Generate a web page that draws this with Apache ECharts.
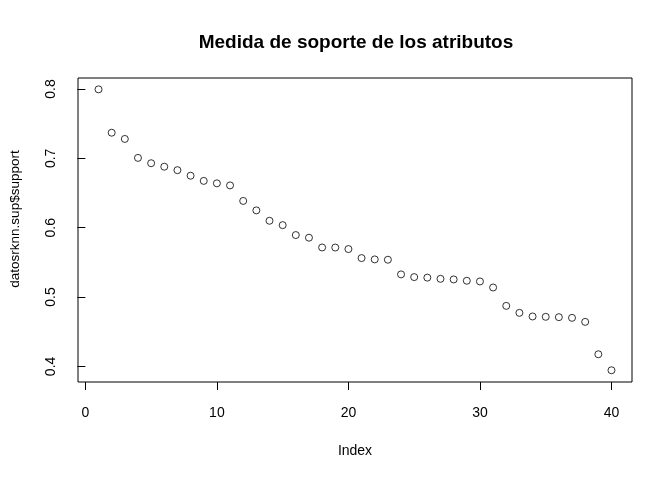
<!DOCTYPE html>
<html>
<head>
<meta charset="utf-8">
<script src="https://cdn.jsdelivr.net/npm/echarts@6/dist/echarts.min.js"></script>
<style>
  html, body { margin: 0; padding: 0; background: #fff; }
  #chart { width: 672px; height: 480px; }
</style>
</head>
<body>
<div id="chart"></div>
<script>
// índice de cada atributo (1..40)
const indices = [
  1, 2, 3, 4, 5, 6, 7, 8, 9, 10,
  11, 12, 13, 14, 15, 16, 17, 18, 19, 20,
  21, 22, 23, 24, 25, 26, 27, 28, 29, 30,
  31, 32, 33, 34, 35, 36, 37, 38, 39, 40
];
// soporte
const support = [
  0.7995, 0.737, 0.728, 0.7007, 0.693, 0.688, 0.683, 0.675, 0.6675, 0.664,
  0.661, 0.6386, 0.625, 0.610, 0.6037, 0.5894, 0.5856, 0.5715, 0.5714, 0.5692,
  0.5562, 0.5543, 0.5538, 0.5327, 0.5288, 0.528, 0.5263, 0.5254, 0.5235, 0.5225,
  0.5138, 0.4873, 0.4772, 0.472, 0.4715, 0.471, 0.470, 0.4642, 0.4175, 0.3944
];
const xTicks = [0, 10, 20, 30, 40];
const yTicks = [0.4, 0.5, 0.6, 0.7, 0.8];

const points = indices.map((x, i) => [x, support[i]]);

const font = 'Liberation Sans, Arial, Helvetica, sans-serif';

let myChart = echarts.init(document.getElementById('chart'), null, { renderer: 'canvas' });
let options = {
  backgroundColor: '#ffffff',
  animation: false,
  title: {
    text: 'Medida de soporte de los atributos',
    left: 351,
    top: 28,
    textAlign: 'center',
    textStyle: { fontFamily: font, fontSize: 19, fontWeight: 'bold', color: '#000' }
  },
  grid: {
    left: 78,
    right: 40,
    top: 78,
    bottom: 98,
    show: true,
    borderColor: '#000',
    borderWidth: 1,
    backgroundColor: 'transparent'
  },
  xAxis: {
    type: 'value',
    min: -0.56,
    max: 41.56,
    name: 'Index',
    nameLocation: 'middle',
    nameGap: 62,
    nameTextStyle: { fontFamily: font, fontSize: 14, color: '#000' },
    axisLine: { show: false },
    splitLine: { show: false },
    axisTick: {
      show: true,
      inside: false,
      length: 8,
      customValues: xTicks,
      lineStyle: { color: '#000', width: 1 }
    },
    axisLabel: {
      customValues: xTicks,
      margin: 24,
      fontFamily: font,
      fontSize: 14,
      color: '#000'
    }
  },
  yAxis: {
    type: 'value',
    min: 0.3775,
    max: 0.8159,
    name: 'datosrknn.sup$support',
    nameLocation: 'middle',
    nameRotate: 90,
    nameGap: 56,
    nameTextStyle: { fontFamily: font, fontSize: 13.5, color: '#000', padding: [0, 0, 0, 22] },
    axisLine: { show: false },
    splitLine: { show: false },
    axisTick: {
      show: true,
      inside: false,
      length: 8,
      customValues: yTicks,
      lineStyle: { color: '#000', width: 1 }
    },
    axisLabel: {
      customValues: yTicks,
      rotate: 90,
      margin: 20,
      fontFamily: font,
      fontSize: 14,
      color: '#000',
      formatter: v => v.toFixed(1)
    }
  },
  series: [
    {
      type: 'scatter',
      data: points,
      symbol: 'circle',
      symbolSize: 7,
      itemStyle: { color: 'rgba(255,255,255,0)', borderColor: '#000', borderWidth: 1 }
    }
  ]
};
myChart.setOption(options);
</script>
</body>
</html>
